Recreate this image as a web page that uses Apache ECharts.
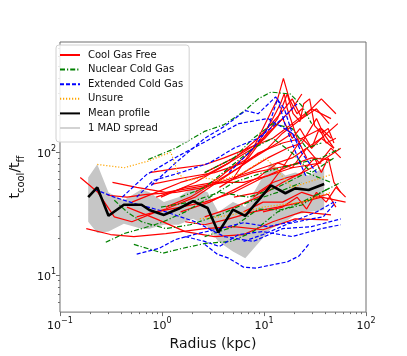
<!DOCTYPE html>
<html>
<head>
<meta charset="utf-8">
<script src="https://cdn.jsdelivr.net/npm/echarts@6/dist/echarts.min.js"></script>
<style>
  body {margin:0;padding:0;overflow:hidden;background:#fff;}
  #main {width:407px;height:356px;}
</style>
</head>
<body>
<div id="main"></div>
<script>
// profiles: [radius (kpc), tcool/tff]
const coolGasFree = [
  [[0.181,23.9],[0.313,21.4],[0.53,20.6],[1.09,21.8],[2.62,23.9],[5.07,24.8],[9.78,23.4],[20.2,28.7],[42.6,28.2]],
  [[0.158,62.3],[0.235,47.2],[0.341,29.8],[0.507,27.2],[0.877,32.7],[1.52,35.8],[2.62,39.3],[5.07,47.2],[9.78,62.3],[18.9,74.8],[36.5,82]],
  [[0.752,68.3],[1.36,73.5],[2.62,79.1],[4.07,90],[7.04,108],[12.2,130],[18.9,171],[29.3,226],[45.4,188]],
  [[0.785,54.7],[1.69,62.3],[3.27,68.3],[6.31,82],[10.9,108],[15.2,143],[23.5,188],[36.5,272],[50.7,206]],
  [[2.62,68.3],[5.07,90],[8.77,119],[12.2,188],[14.5,248],[15.8,300],[16.9,226],[21.1,130],[26.2,90]],
  [[4.07,68.3],[7.04,90],[9.78,130],[13.6,188],[16.9,298],[19.3,206],[22.5,178],[24.5,248],[28.0,272],[31.3,165],[36.5,143],[42.6,156],[48.5,119]],
  [[3.65,51.8],[6.31,68.3],[10.9,90],[16.9,108],[23.5,119],[32.7,188],[38.1,143],[48.5,108]],
  [[2.62,29.8],[5.07,35.8],[8.77,43.1],[15.2,56.8],[23.5,68.3],[31.3,90],[36.5,68.3],[42.6,90],[48.5,56.8],[56.5,47.2]],
  [[0.454,35.8],[0.877,28.7],[1.69,22.6],[3.27,20.6],[6.31,21.4],[12.2,27.2],[23.5,32.7],[45.4,30.9]],
  [[0.293,44.7],[0.454,43.1],[0.705,45.5],[1.36,47.2],[2.62,51.8],[5.07,62.3],[9.78,74.8],[18.9,90],[36.5,130],[53,171]],
  [[0.507,39.3],[0.877,47.2],[1.52,56.8],[2.62,64.6],[4.54,82],[7.85,108],[12.2,156],[18.9,226],[23.5,298]],
  [[1.09,35.8],[1.89,43.1],[3.27,56.8],[5.65,74.8],[8.77,98.6],[15.2,119],[23.5,130],[36.5,156],[45.4,130]],
  [[6.31,32.7],[9.78,39.3],[15.2,39.3],[23.5,47.2],[32.7,43.1],[42.6,45.5],[50.7,35.8]],
  [[5.07,43.1],[8.77,47.2],[12.2,56.8],[16.9,62.3],[22.0,65.8],[29.3,74.8],[40.7,90],[56.5,108]],
  [[7.85,43.1],[10.9,51.8],[15.2,74.8],[18.9,98.6],[23.5,130],[29.3,108],[34.9,156],[40.7,119],[50.7,130]],
  [[5.07,62.3],[7.85,108],[10.9,188],[13.6,272],[15.5,400],[17.7,272],[21.1,206],[23.5,226]],
  [[1.69,27.2],[2.62,25.7],[4.54,28.7],[7.85,32.7],[13.6,35.8],[23.5,39.3],[36.5,43.1],[63.1,39.3]],
  [[0.877,43.1],[1.69,51.8],[3.27,56.8],[6.31,56.8],[10.9,64.6],[18.9,79.1],[29.3,90],[45.4,86.7]],
  [[0.565,29.8],[1.09,34.5],[2.11,43.1],[4.07,62.3],[7.85,90],[13.6,119],[18.9,143]],
  [[2.11,47.2],[3.65,62.3],[6.31,90],[10.2,130],[15.2,188],[18.9,130],[22.5,156],[29.3,108],[36.5,130],[48.5,108]],
  [[1.52,32.7],[2.93,39.3],[5.65,51.8],[8.77,62.3],[13.6,82],[18.9,74.8],[26.2,108],[34.9,82],[45.4,108],[56.5,90]],
  [[0.977,43.1],[2.11,56.8],[4.54,82],[8.77,130],[14.5,206],[18.9,272],[23.5,188],[32.7,226],[43.5,171]],
  [[9.78,32.7],[15.2,35.8],[21.1,43.1],[26.2,34.5],[32.7,47.2],[40.7,39.3],[50.7,51.8],[63.1,43.1]],
  [[0.327,56.8],[0.565,51.8],[1.09,47.2],[2.11,51.8],[4.07,56.8],[7.85,68.3],[13.6,74.8],[23.5,82]]
];

const nuclearColdGas = [
  [[0.731,87.3],[1.36,108],[2.62,148],[4.07,168],[6.31,214],[8.77,272],[11.7,309],[18.1,298],[23.5,239],[29.3,171]],
  [[0.281,18.5],[0.426,21.8],[0.631,23.9],[0.977,26.7],[1.69,32.7],[2.93,43.1],[5.07,56.8],[9.78,68.3],[18.9,79.1],[36.5,90],[56.5,108]],
  [[0.53,17.8],[1.02,15.1],[1.58,16.5],[2.62,18.1],[4.74,18.8],[7.85,22.6],[13.6,32.7],[23.5,39.3],[45.4,51.8]],
  [[1.52,43.1],[2.62,51.8],[4.54,74.8],[7.85,108],[12.2,130],[18.9,98.6],[29.3,68.3],[48.5,90]],
  [[0.977,35.8],[1.89,39.3],[3.65,47.2],[7.04,43.1],[13.6,51.8],[26.2,68.3],[45.4,56.8]],
  [[2.62,20.6],[5.07,24.8],[8.77,34.5],[14.2,33.9],[23.5,37.2],[36.5,47.2],[56.5,56.8]],
  [[0.341,40.7],[0.454,32.7],[0.631,27.2],[1.09,23.9],[1.89,25.7],[3.65,30.9],[7.04,39.3],[13.6,47.2],[23.5,56.8]],
  [[2.62,68.3],[5.07,90],[7.85,130],[12.2,171],[18.9,156],[26.2,108],[36.5,119]]
];

const extendedColdGas = [
  [[0.785,53.7],[1.36,82],[2.62,130],[4.07,162],[6.59,218],[8.77,206],[13.0,282],[15.8,226],[18.9,143],[23.5,108]],
  [[0.407,43.1],[0.705,65.8],[1.45,93.3],[3.06,130],[5.65,171],[10.9,188],[18.9,143],[23.5,98.6],[32.7,68.3]],
  [[2.62,17.8],[3.49,14.8],[4.54,13.7],[6.31,11.6],[8.39,11.4],[13.0,12.3],[16.9,12.8],[22.0,14.3],[27.4,17.8]],
  [[0.565,14.8],[0.935,16.5],[1.36,19.5],[2.25,21.8],[3.65,23.9],[6.31,26.7],[10.9,24.8],[18.9,27.2],[32.7,32.7],[48.5,39.3]],
  [[0.22,49.9],[0.341,43.1],[0.565,37.8],[1.09,32.7],[2.11,27.2],[4.07,20.6],[7.85,18.8],[15.2,23.9],[29.3,24.8],[56.5,28.7]],
  [[6.31,18.8],[9.78,21.4],[17.3,26.2],[26.2,28.2],[38.1,29.8],[50.7,39.3]],
  [[0.565,43.1],[0.82,58.9],[1.52,68.3],[2.93,82],[5.07,108],[8.77,130],[15.2,188],[21.1,248]],
  [[4.54,68.3],[7.85,108],[10.9,156],[13.6,272],[16.2,165],[19.7,108],[22.5,82],[26.2,62.3]],
  [[1.69,20.6],[2.62,18.8],[3.65,17.1],[5.65,21.4],[9.78,22.6],[18.9,20.6],[36.5,23.9],[56.5,25.7]]
];

const unsure = [
  [[0.232,79.6],[0.426,74.8],[0.731,84.8],[1.22,100],[1.45,66.2],[1.81,58.9],[2.46,62.3],[3.81,58.9],[6.31,68.3],[10.4,90],[18.9,51.8],[45.4,65.8]],
  [[2.35,28.7],[3.65,29.8],[5.41,31.5],[9.78,35.8],[23.5,39.3],[45.4,47.2]]
];

const meanRadius  = [0.189,0.232,0.299,0.423,0.631,0.752,1.045,1.45,2.02,2.8,3.57,4.96,6.55,11.7,16.2,20.2,27.4,38.9];
const meanProfile = [43.1,51.8,30.4,37.4,37.4,33.9,30.9,34.7,40.0,35.2,22.2,34.1,30.4,53.7,46.4,50.8,49.3,55.1];
const madLower    = [27.2,22.0,22.6,26.2,23.9,23.9,25.7,25.7,28.7,24.8,18.8,15.6,13.7,23.9,27.2,30.9,32.7,33.9];
const madUpper    = [62.3,80.0,47.0,40.7,49.9,47.2,39.3,43.1,51.8,47.2,32.7,39.3,35.8,82.0,64.6,68.3,64.6,74.8];

const xMajor = [0.1, 1, 10, 100];
const yMajor = [10, 100];

// minor tick positions 2..9 of each decade
function minorTicks(lo, hi) {
  let out = [];
  for (let d = lo; d < hi; d *= 10) {
    for (let k = 2; k <= 9; k++) out.push(+(d * k).toPrecision(3));
  }
  return out;
}
const xMinor = minorTicks(0.1, 100);
const yMinor = minorTicks(1, 1000).filter(v => v > 5 && v < 790);

let myChart = echarts.init(document.getElementById('main'));

const axisGrey = '#6e6e6e';
const FONT = 'DejaVu Sans';

function powLabel(v) {
  let e = Math.round(Math.log10(v));
  return '{b|10}{e|' + String(e).replace('-', '\u2212') + '}';
}
const powRich = {
  b: {fontSize: 11, fontFamily: FONT, color: '#111', lineHeight: 15, verticalAlign: 'bottom'},
  e: {fontSize: 8, fontFamily: FONT, color: '#111', lineHeight: 15, verticalAlign: 'top'}
};

let series = [];
function addGroup(name, groups, color, type, width) {
  groups.forEach(function (pts) {
    series.push({
      name: name, type: 'line', data: pts, symbol: 'none', z: 3,
      itemStyle: {color: color},
      lineStyle: {color: color, width: width, type: type},
      emphasis: {disabled: true}
    });
  });
}
addGroup('Cool Gas Free', coolGasFree, '#ff0000', 'solid', 1.2);
addGroup('Nuclear Cold Gas', nuclearColdGas, '#008000', [5, 2, 1.2, 2], 1.2);
addGroup('Extended Cold Gas', extendedColdGas, '#0000ff', [4, 2], 1.2);
addGroup('Unsure', unsure, '#ffa500', [1.2, 1.8], 1.2);

// 1 MAD band: polygon through upper edge then back along lower edge
series.push({
  name: 'madBand', type: 'custom', z: 2, silent: true,
  data: [[meanRadius[0], meanProfile[0]]],
  renderItem: function (params, api) {
    let pts = [];
    for (let i = 0; i < meanRadius.length; i++) pts.push(api.coord([meanRadius[i], madUpper[i]]));
    for (let i = meanRadius.length - 1; i >= 0; i--) pts.push(api.coord([meanRadius[i], madLower[i]]));
    return {type: 'polygon', shape: {points: pts}, style: {fill: '#c6c6c6'}};
  }
});
// legend-only entry for the band
series.push({
  name: '1 MAD spread', type: 'line', symbol: 'none', data: [],
  itemStyle: {color: '#d3d3d3'},
  lineStyle: {color: '#d3d3d3', width: 1.5}
});
series.push({
  name: 'Mean profile', type: 'line', symbol: 'none', z: 5,
  data: meanRadius.map((r, i) => [r, meanProfile[i]]),
  itemStyle: {color: '#000'},
  lineStyle: {color: '#000', width: 2.6}
});

let option = {
  animation: false,
  grid: {left: 51, right: 41, top: 42, bottom: 40, show: true, borderColor: axisGrey, borderWidth: 1},
  legend: {
    orient: 'vertical', left: 56, top: 45,
    padding: [5, 6, 9, 3],
    itemWidth: 20, itemHeight: 10, itemGap: 4.6,
    selectedMode: false,
    itemStyle: {opacity: 0},
    backgroundColor: 'rgba(255,255,255,0.85)',
    borderColor: '#d0d0d0', borderWidth: 1, borderRadius: 3,
    textStyle: {fontSize: 10, fontFamily: FONT, color: '#111', padding: [0, 0, 0, 3]},
    data: ['Cool Gas Free', 'Nuclear Cold Gas', 'Extended Cold Gas', 'Unsure', 'Mean profile', '1 MAD spread']
  },
  xAxis: [{
    type: 'log', logBase: 10, min: 0.1, max: 100,
    name: 'Radius (kpc)', nameLocation: 'middle', nameGap: 19,
    nameTextStyle: {fontSize: 14, fontFamily: FONT, color: '#111'},
    axisLine: {show: false},
    axisTick: {customValues: xMajor, length: 4, lineStyle: {color: axisGrey}},
    axisLabel: {customValues: xMajor, formatter: powLabel, rich: powRich, margin: 5},
    splitLine: {show: false}
  }, {
    type: 'log', logBase: 10, min: 0.1, max: 100, position: 'bottom',
    axisLine: {show: false},
    axisTick: {customValues: xMinor, length: 2, lineStyle: {color: axisGrey}},
    axisLabel: {show: false},
    splitLine: {show: false}
  }],
  yAxis: [{
    type: 'log', logBase: 10, min: 5, max: 790,
    name: '{t|t}{s|cool}{t|/t}{s|ff}', nameLocation: 'middle', nameGap: 30, nameRotate: 90,
    nameTextStyle: {
      rich: {
        t: {fontSize: 14, fontFamily: FONT, color: '#111', lineHeight: 18, verticalAlign: 'top'},
        s: {fontSize: 10, fontFamily: FONT, color: '#111', lineHeight: 18, verticalAlign: 'bottom'}
      }
    },
    axisLine: {show: false},
    axisTick: {customValues: yMajor, length: 4, lineStyle: {color: axisGrey}},
    axisLabel: {customValues: yMajor, formatter: powLabel, rich: powRich, margin: 4},
    splitLine: {show: false}
  }, {
    type: 'log', logBase: 10, min: 5, max: 790, position: 'left',
    axisLine: {show: false},
    axisTick: {customValues: yMinor, length: 2, lineStyle: {color: axisGrey}},
    axisLabel: {show: false},
    splitLine: {show: false}
  }],
  series: series
};
myChart.setOption(option);
</script>
</body>
</html>
